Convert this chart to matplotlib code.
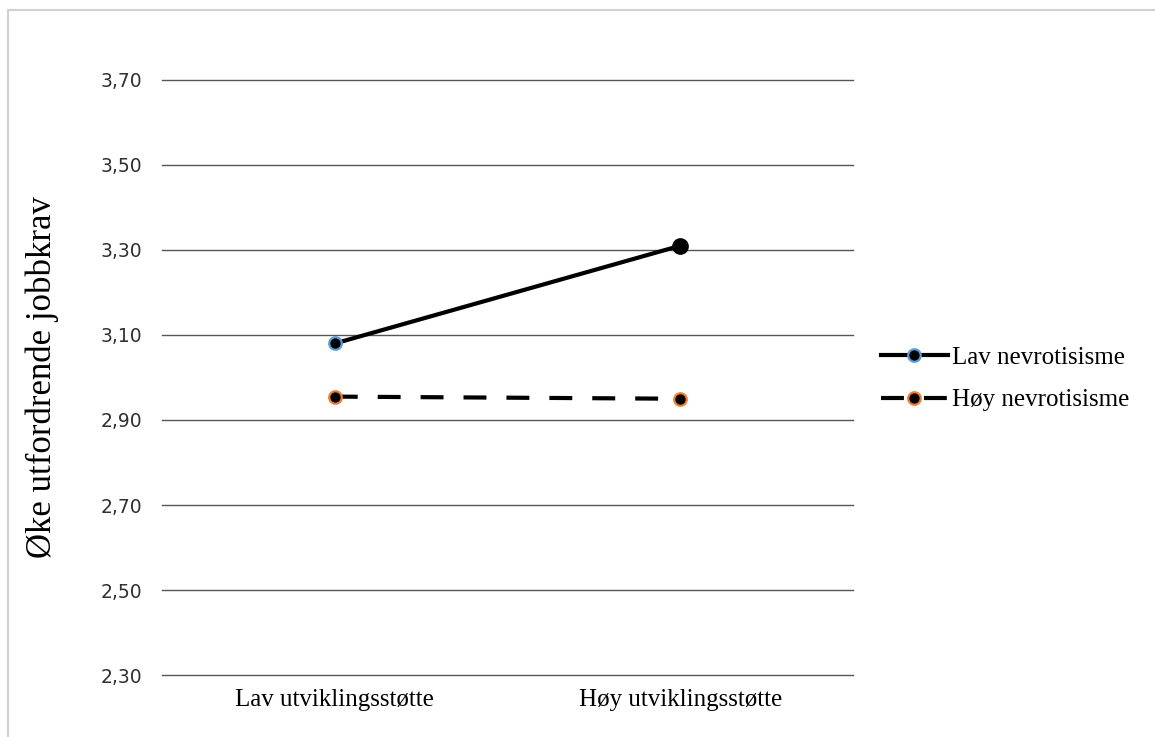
import matplotlib.pyplot as plt
from matplotlib.patches import Rectangle

categories = ['Lav utviklingsstøtte', 'Høy utviklingsstøtte']
lav_nevro = [3.08, 3.31]
hoy_nevro = [2.955, 2.95]
yticks = [2.30, 2.50, 2.70, 2.90, 3.10, 3.30, 3.50, 3.70]

serif = ['Liberation Serif', 'DejaVu Serif']

fig = plt.figure(figsize=(11.55, 7.37), dpi=100)
ax = fig.add_axes([0.1403, 0.0841, 0.5982, 0.8074])

x = [0, 1]
# linje for lav nevrotisisme (heltrukken)
l1, = ax.plot(x, lav_nevro, color='black', lw=3, marker='o', ms=9,
              mfc='black', mec='#5B9BD5', mew=1.6, label='Lav nevrotisisme', zorder=3)
# siste punkt er tegnet helt svart og litt større
ax.plot(x[-1:], lav_nevro[-1:], 'o', color='black', ms=11, zorder=4)

# linje for høy nevrotisisme (stiplet)
l2, = ax.plot(x, hoy_nevro, color='black', lw=3, dashes=(5.5, 4.8), marker='o', ms=9,
              mfc='black', mec='#ED7D31', mew=1.6, label='Høy nevrotisisme', zorder=3)

ax.set_xlim(-0.5, 1.5)
ax.set_ylim(2.30, 3.70)
ax.set_yticks(yticks)
ax.set_yticklabels([f'{v:.2f}'.replace('.', ',') for v in yticks], fontsize=13.5, color='#303030')
ax.set_xticks(x)
ax.set_xticklabels(categories, fontsize=18, family=serif)
ax.tick_params(length=0, pad=14)
ax.tick_params(axis='x', pad=10)
ax.grid(True, axis='y', color='#555555', lw=1)
for gl in ax.get_ygridlines():
    gl.set_clip_on(False)
for s in ax.spines.values():
    s.set_visible(False)

ax.set_ylabel('Øke utfordrende jobbkrav', fontsize=25, family=serif, labelpad=30)

fig.legend([l1, l2], [l1.get_label(), l2.get_label()], loc='center left',
           bbox_to_anchor=(0.743, 0.486), frameon=False, handlelength=2.7,
           handletextpad=0.15, labelspacing=0.8, prop={'family': serif, 'size': 18})

# ramme rundt figuren
fig.patches.append(Rectangle((0.007, -0.01), 1.0, 0.997, transform=fig.transFigure,
                             fill=False, edgecolor='#d0d0d0', lw=1.5))

fig.savefig('out.png', dpi=100)
